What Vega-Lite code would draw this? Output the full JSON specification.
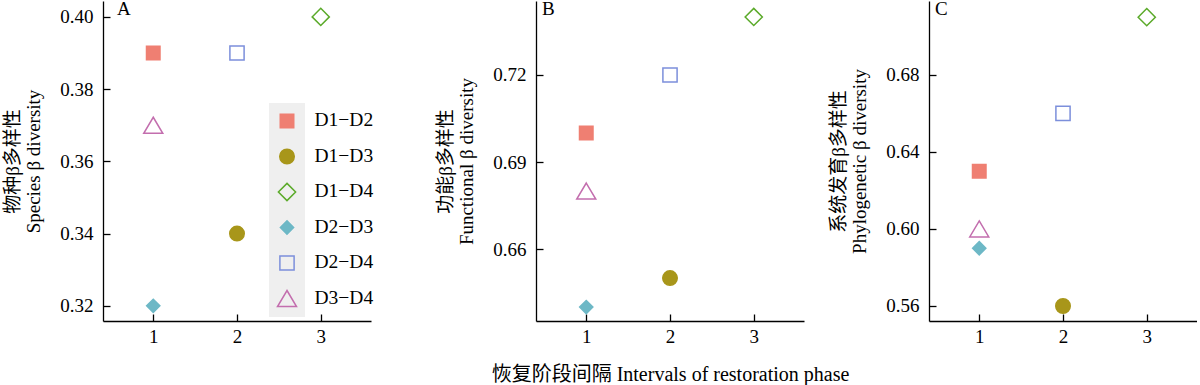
{
  "$schema": "https://vega.github.io/schema/vega-lite/v6.json",
  "background": "white",
  "padding": {"left": 3, "top": 0, "right": 0, "bottom": 0},
  "config": {
    "view": {"stroke": null},
    "axis": {"grid": false, "domainColor": "black", "tickColor": "black", "labelColor": "black", "titleColor": "black", "labelFont": "Liberation Serif", "titleFont": "Liberation Serif, Noto Sans CJK SC", "labelFontSize": 19, "titleFontSize": 19, "titleFontWeight": "normal", "domainWidth": 1.3, "tickWidth": 1.3, "tickSize": -7},
    "axisY": {"labelPadding": 17, "titlePadding": 16, "titleLineHeight": 21},
    "axisX": {"labelPadding": 13.5, "titleFontSize": 20, "titlePadding": 18},
    "title": {"font": "Liberation Serif", "fontSize": 19, "fontWeight": "normal", "color": "black", "anchor": "start", "frame": "group", "offset": -18, "baseline": "top"}
  },
  "resolve": {"scale": {"shape": "independent", "fill": "independent", "stroke": "independent", "opacity": "independent"}},
  "spacing": -20,
  "hconcat": [
    {
      "resolve": {"scale": {"shape": "independent", "fill": "independent", "stroke": "independent", "opacity": "independent"}},
      "spacing": 62,
      "hconcat": [
        {
          "width": 268, "height": 320,
          "title": {"text": "A", "dx": 14},
          "data": {"values": [
            {"interval": 1, "value": 0.39, "pair": "D1−D2"},
            {"interval": 2, "value": 0.34, "pair": "D1−D3"},
            {"interval": 3, "value": 0.40, "pair": "D1−D4"},
            {"interval": 1, "value": 0.32, "pair": "D2−D3"},
            {"interval": 2, "value": 0.39, "pair": "D2−D4"},
            {"interval": 1, "value": 0.37, "pair": "D3−D4"}
          ]},
          "mark": {"type": "point", "strokeWidth": 1.5, "size": 400, "opacity": 1},
          "encoding": {
            "x": {"field": "interval", "type": "quantitative", "scale": {"domain": [0.4, 3.6], "nice": false, "zero": false}, "axis": {"values": [1, 2, 3], "title": null, "format": "d"}},
            "y": {"field": "value", "type": "quantitative", "scale": {"domain": [0.3158, 0.4044], "nice": false, "zero": false}, "axis": {"values": [0.32, 0.34, 0.36, 0.38, 0.40], "format": ".2f", "title": ["物种β多样性", "Species β diversity"]}},
            "shape": {"field": "pair", "type": "nominal",
              "scale": {"domain": ["D1−D2", "D1−D3", "D1−D4", "D2−D3", "D2−D4", "D3−D4"], "range": ["M-0.675,-0.675H0.675V0.675H-0.675Z", "M0.725,0A0.725,0.725,0,1,1,-0.725,0A0.725,0.725,0,1,1,0.725,0Z", "M0,-0.86L0.86,0L0,0.86L-0.86,0Z", "M0,-0.66L0.66,0L0,0.66L-0.66,0Z", "M-0.71,-0.71H0.71V0.71H-0.71Z", "M0,-0.8L0.95,0.8L-0.95,0.8Z"]},
              "legend": {"orient": "none", "legendX": 166, "legendY": 102, "title": null, "fillColor": "#efefef", "padding": 7, "labelExpr": "''", "labelOffset": 0, "symbolSize": 400, "symbolStrokeWidth": 1.5, "clipHeight": 22, "rowPadding": 13.5, "symbolOpacity": 1}},
            "stroke": {"field": "pair", "type": "nominal",
              "scale": {"domain": ["D1−D2", "D1−D3", "D1−D4", "D2−D3", "D2−D4", "D3−D4"], "range": ["#EF7F72", "#A8961A", "#5BAA2A", "#6DB8C6", "#7C8FDB", "#C36EAE"]},
              "legend": {"orient": "none", "legendX": 166, "legendY": 102, "title": null, "fillColor": "#efefef", "padding": 7, "labelExpr": "''", "labelOffset": 0, "symbolSize": 400, "symbolStrokeWidth": 1.5, "clipHeight": 22, "rowPadding": 13.5, "symbolOpacity": 1}},
            "fill": {"field": "pair", "type": "nominal",
              "scale": {"domain": ["D1−D2", "D1−D3", "D1−D4", "D2−D3", "D2−D4", "D3−D4"], "range": ["#EF7F72", "#A8961A", "transparent", "#6DB8C6", "transparent", "transparent"]},
              "legend": {"orient": "none", "legendX": 166, "legendY": 102, "title": null, "fillColor": "#efefef", "padding": 7, "labelExpr": "''", "labelOffset": 0, "symbolSize": 400, "symbolStrokeWidth": 1.5, "clipHeight": 22, "rowPadding": 13.5, "symbolOpacity": 1}},
            "opacity": {"field": "pair", "type": "nominal", "scale": {"range": [1, 1]},
              "legend": {"orient": "none", "legendX": 192, "legendY": 108, "title": null, "padding": 0, "symbolSize": 0, "symbolStrokeWidth": 0, "symbolOpacity": 0, "labelOffset": 0, "clipHeight": 22, "rowPadding": 13.5, "labelFont": "Liberation Serif", "labelFontSize": 19.5, "labelColor": "black"}}
          }
        },
        {
          "width": 268, "height": 320,
          "title": {"text": "B", "dx": 6},
          "data": {"values": [
            {"interval": 1, "value": 0.70, "pair": "D1−D2"},
            {"interval": 2, "value": 0.65, "pair": "D1−D3"},
            {"interval": 3, "value": 0.74, "pair": "D1−D4"},
            {"interval": 1, "value": 0.64, "pair": "D2−D3"},
            {"interval": 2, "value": 0.72, "pair": "D2−D4"},
            {"interval": 1, "value": 0.68, "pair": "D3−D4"}
          ]},
          "mark": {"type": "point", "strokeWidth": 1.5, "size": 400, "opacity": 1},
          "encoding": {
            "x": {"field": "interval", "type": "quantitative", "scale": {"domain": [0.4, 3.6], "nice": false, "zero": false}, "axis": {"values": [1, 2, 3], "title": "恢复阶段间隔 Intervals of restoration phase", "format": "d"}},
            "y": {"field": "value", "type": "quantitative", "scale": {"domain": [0.6352, 0.7455], "nice": false, "zero": false}, "axis": {"values": [0.66, 0.69, 0.72], "format": ".2f", "title": ["功能β多样性", "Functional β diversity"]}},
            "shape": {"field": "pair", "type": "nominal", "legend": null,
              "scale": {"domain": ["D1−D2", "D1−D3", "D1−D4", "D2−D3", "D2−D4", "D3−D4"], "range": ["M-0.675,-0.675H0.675V0.675H-0.675Z", "M0.725,0A0.725,0.725,0,1,1,-0.725,0A0.725,0.725,0,1,1,0.725,0Z", "M0,-0.86L0.86,0L0,0.86L-0.86,0Z", "M0,-0.66L0.66,0L0,0.66L-0.66,0Z", "M-0.71,-0.71H0.71V0.71H-0.71Z", "M0,-0.8L0.95,0.8L-0.95,0.8Z"]}},
            "stroke": {"field": "pair", "type": "nominal", "legend": null,
              "scale": {"domain": ["D1−D2", "D1−D3", "D1−D4", "D2−D3", "D2−D4", "D3−D4"], "range": ["#EF7F72", "#A8961A", "#5BAA2A", "#6DB8C6", "#7C8FDB", "#C36EAE"]}},
            "fill": {"field": "pair", "type": "nominal", "legend": null,
              "scale": {"domain": ["D1−D2", "D1−D3", "D1−D4", "D2−D3", "D2−D4", "D3−D4"], "range": ["#EF7F72", "#A8961A", "transparent", "#6DB8C6", "transparent", "transparent"]}}
          }
        }
      ]
    },
    {
      "width": 268, "height": 320,
      "title": {"text": "C", "dx": 6},
      "data": {"values": [
        {"interval": 1, "value": 0.63, "pair": "D1−D2"},
        {"interval": 2, "value": 0.56, "pair": "D1−D3"},
        {"interval": 3, "value": 0.71, "pair": "D1−D4"},
        {"interval": 1, "value": 0.59, "pair": "D2−D3"},
        {"interval": 2, "value": 0.66, "pair": "D2−D4"},
        {"interval": 1, "value": 0.60, "pair": "D3−D4"}
      ]},
      "mark": {"type": "point", "strokeWidth": 1.5, "size": 400, "opacity": 1},
      "encoding": {
        "x": {"field": "interval", "type": "quantitative", "scale": {"domain": [0.4, 3.6], "nice": false, "zero": false}, "axis": {"values": [1, 2, 3], "title": null, "format": "d"}},
        "y": {"field": "value", "type": "quantitative", "scale": {"domain": [0.5522, 0.7184], "nice": false, "zero": false}, "axis": {"values": [0.56, 0.60, 0.64, 0.68], "format": ".2f", "title": ["系统发育β多样性", "Phylogenetic β diversity"]}},
        "shape": {"field": "pair", "type": "nominal", "legend": null,
          "scale": {"domain": ["D1−D2", "D1−D3", "D1−D4", "D2−D3", "D2−D4", "D3−D4"], "range": ["M-0.675,-0.675H0.675V0.675H-0.675Z", "M0.725,0A0.725,0.725,0,1,1,-0.725,0A0.725,0.725,0,1,1,0.725,0Z", "M0,-0.86L0.86,0L0,0.86L-0.86,0Z", "M0,-0.66L0.66,0L0,0.66L-0.66,0Z", "M-0.71,-0.71H0.71V0.71H-0.71Z", "M0,-0.8L0.95,0.8L-0.95,0.8Z"]}},
        "stroke": {"field": "pair", "type": "nominal", "legend": null,
          "scale": {"domain": ["D1−D2", "D1−D3", "D1−D4", "D2−D3", "D2−D4", "D3−D4"], "range": ["#EF7F72", "#A8961A", "#5BAA2A", "#6DB8C6", "#7C8FDB", "#C36EAE"]}},
        "fill": {"field": "pair", "type": "nominal", "legend": null,
          "scale": {"domain": ["D1−D2", "D1−D3", "D1−D4", "D2−D3", "D2−D4", "D3−D4"], "range": ["#EF7F72", "#A8961A", "transparent", "#6DB8C6", "transparent", "transparent"]}}
      }
    }
  ]
}
